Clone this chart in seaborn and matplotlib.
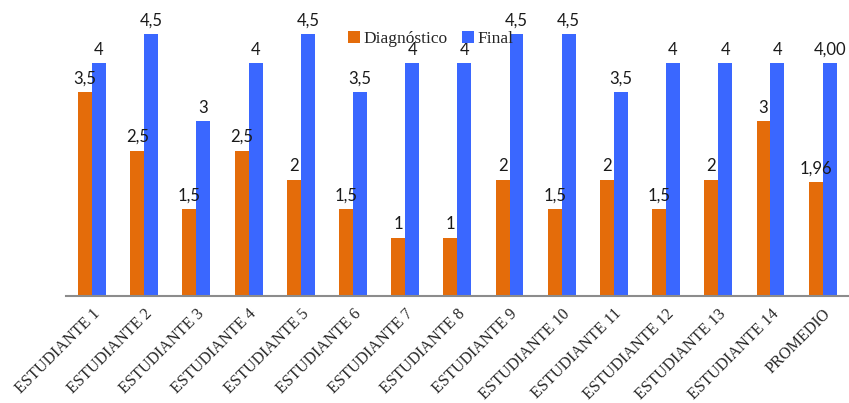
import matplotlib
matplotlib.use("Agg")
import matplotlib.pyplot as plt
import seaborn as sns
import pandas as pd

categories = ["ESTUDIANTE 1", "ESTUDIANTE 2", "ESTUDIANTE 3", "ESTUDIANTE 4",
              "ESTUDIANTE 5", "ESTUDIANTE 6", "ESTUDIANTE 7", "ESTUDIANTE 8",
              "ESTUDIANTE 9", "ESTUDIANTE 10", "ESTUDIANTE 11", "ESTUDIANTE 12",
              "ESTUDIANTE 13", "ESTUDIANTE 14", "PROMEDIO"]
diagnostico = [3.5, 2.5, 1.5, 2.5, 2, 1.5, 1, 1, 2, 1.5, 2, 1.5, 2, 3, 1.96]
final = [4, 4.5, 3, 4, 4.5, 3.5, 4, 4, 4.5, 4.5, 3.5, 4, 4, 4, 4.00]
series = ["Diagnóstico", "Final"]
colors = ["#E46C0A", "#3A67FF"]


def fmt(v, last):
    if last:
        return f"{v:.2f}".replace(".", ",")
    return f"{v:g}".replace(".", ",")


df = pd.DataFrame({
    "Estudiante": categories * 2,
    "Nota": diagnostico + final,
    "Serie": [series[0]] * len(categories) + [series[1]] * len(categories),
})

sns.set_style("white")
fig = plt.figure(figsize=(8.49, 4.03), dpi=100)
ax = fig.add_axes([0.0777, 0.2655, 0.922, 0.722])

sns.barplot(data=df, x="Estudiante", y="Nota", hue="Serie", palette=colors,
            width=0.534, gap=0, ax=ax, saturation=1, legend=True, linewidth=0)

ax.set_ylim(0, 5)
ax.set_xlim(-0.5, len(categories) - 0.5)
ax.set_xlabel("")
ax.set_ylabel("")
ax.set_yticks([])
for s in ["top", "right", "left"]:
    ax.spines[s].set_visible(False)
ax.spines["bottom"].set_color("#8C8C8C")
ax.spines["bottom"].set_linewidth(1.5)
ax.tick_params(axis="x", length=0, pad=7)
ax.set_xticks(range(len(categories)))
ax.set_xticklabels(categories, rotation=45, ha="right", va="top",
                   rotation_mode="anchor", family="Liberation Serif", fontsize=11.6)

n = len(categories)
for container, vals in zip(ax.containers, [diagnostico, final]):
    labels = [fmt(v, i == n - 1) for i, v in enumerate(vals)]
    ax.bar_label(container, labels=labels, padding=4, family="Lato", fontsize=12,
                 color="#1a1a1a")

leg = ax.legend(loc="upper center", bbox_to_anchor=(0.466, 0.935), ncol=2, frameon=False,
                handlelength=0.7, handleheight=0.7, handletextpad=0.2, columnspacing=0.8,
                borderaxespad=0, prop={"family": "Liberation Serif", "size": 12.5})

fig.savefig("out.png", dpi=100)
